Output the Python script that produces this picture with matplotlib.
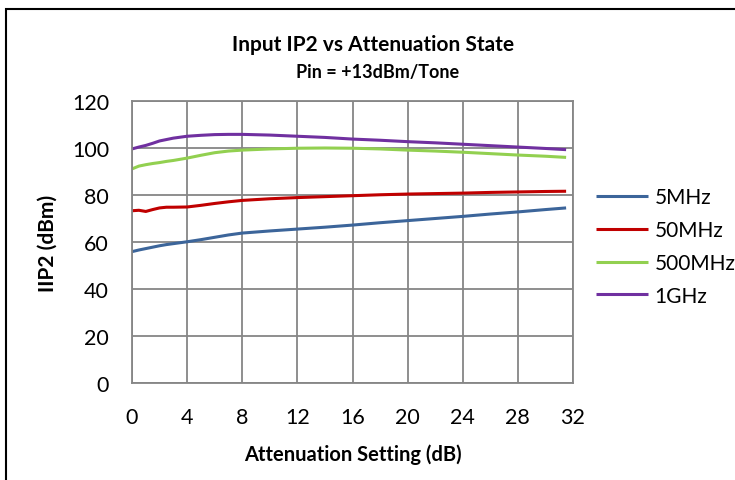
import matplotlib
matplotlib.use("Agg")
import matplotlib.pyplot as plt
from matplotlib.patches import Rectangle

plt.rcParams['font.family'] = ['Lato', 'DejaVu Sans']

# attenuation setting (dB)
atten = [0, 0.5, 1, 1.5, 2, 2.5, 3, 4, 5, 6, 7, 8, 10, 12, 14, 16,
         18, 20, 22, 24, 26, 28, 30, 31.5]

# IIP2 (dBm) per frequency
iip2_5mhz = [55.9, 56.6, 57.2, 57.8, 58.4, 58.9, 59.3, 60.1, 61.0, 62.0, 63.0, 63.8,
             64.7, 65.5, 66.3, 67.2, 68.2, 69.1, 70.0, 70.9, 71.9, 72.8, 73.8, 74.5]
iip2_50mhz = [73.3, 73.5, 73.0, 73.8, 74.5, 74.8, 74.8, 74.9, 75.6, 76.4, 77.1, 77.7,
              78.4, 78.9, 79.3, 79.7, 80.1, 80.4, 80.6, 80.8, 81.1, 81.3, 81.5, 81.6]
iip2_500mhz = [91.1, 92.3, 92.9, 93.4, 93.8, 94.3, 94.7, 95.7, 96.9, 98.0, 98.7, 99.1,
               99.6, 99.9, 100.0, 99.9, 99.6, 99.1, 98.7, 98.2, 97.6, 97.0, 96.5, 96.0]
iip2_1ghz = [99.6, 100.4, 101.1, 102.0, 103.0, 103.6, 104.2, 105.0, 105.4, 105.7, 105.8, 105.8,
             105.5, 105.0, 104.5, 103.8, 103.3, 102.7, 102.2, 101.6, 101.0, 100.4, 99.8, 99.3]

series = [("5MHz", iip2_5mhz, "#3C659A"),
          ("50MHz", iip2_50mhz, "#C00000"),
          ("500MHz", iip2_500mhz, "#92D050"),
          ("1GHz", iip2_1ghz, "#7030A0")]

fig = plt.figure(figsize=(7.35, 4.81), dpi=100)
ax = fig.add_axes([132/735, 1-384/481, (573-132)/735, (384-102)/481])

for name, vals, col in series:
    ax.plot(atten, vals, color=col, lw=2.2, label=name, solid_capstyle='butt')

ax.set_xlim(0, 32)
ax.set_ylim(0, 120)
ax.set_xticks(range(0, 33, 4))
ax.set_yticks(range(0, 121, 20))
ax.grid(True, color="#868686", lw=1.3)
ax.set_axisbelow(True)
for s in ax.spines.values():
    s.set_color("#868686")
    s.set_linewidth(1.3)
ax.tick_params(length=0, labelsize=15.5)
ax.tick_params(axis='y', pad=16.5)
ax.tick_params(axis='x', pad=17)

ax.set_xlabel("Attenuation Setting (dB)", fontsize=14.5, fontweight='bold', labelpad=12)
ax.set_ylabel("IIP2 (dBm)", fontsize=15, fontweight='bold', labelpad=10)

fig.text(373/735, 1 - 45/481, "Input IP2 vs Attenuation State",
         ha='center', va='center', fontsize=15, fontweight='bold')
fig.text(378/735, 1 - 73/481, "Pin = +13dBm/Tone",
         ha='center', va='center', fontsize=13, fontweight='bold')

ax.legend(loc='upper left', bbox_to_anchor=(596/735, 1 - 188/481),
          bbox_transform=fig.transFigure, frameon=False, fontsize=15,
          handlelength=2.5, handletextpad=0.3, labelspacing=0.62, borderpad=0,
          borderaxespad=0)

# outer chart frame
fig.patches.append(Rectangle((6/735, -0.1), 2, 1 - 10/481 + 0.1, transform=fig.transFigure,
                             fill=False, edgecolor="#000000", lw=1.5))

fig.savefig("out.png", dpi=100)
